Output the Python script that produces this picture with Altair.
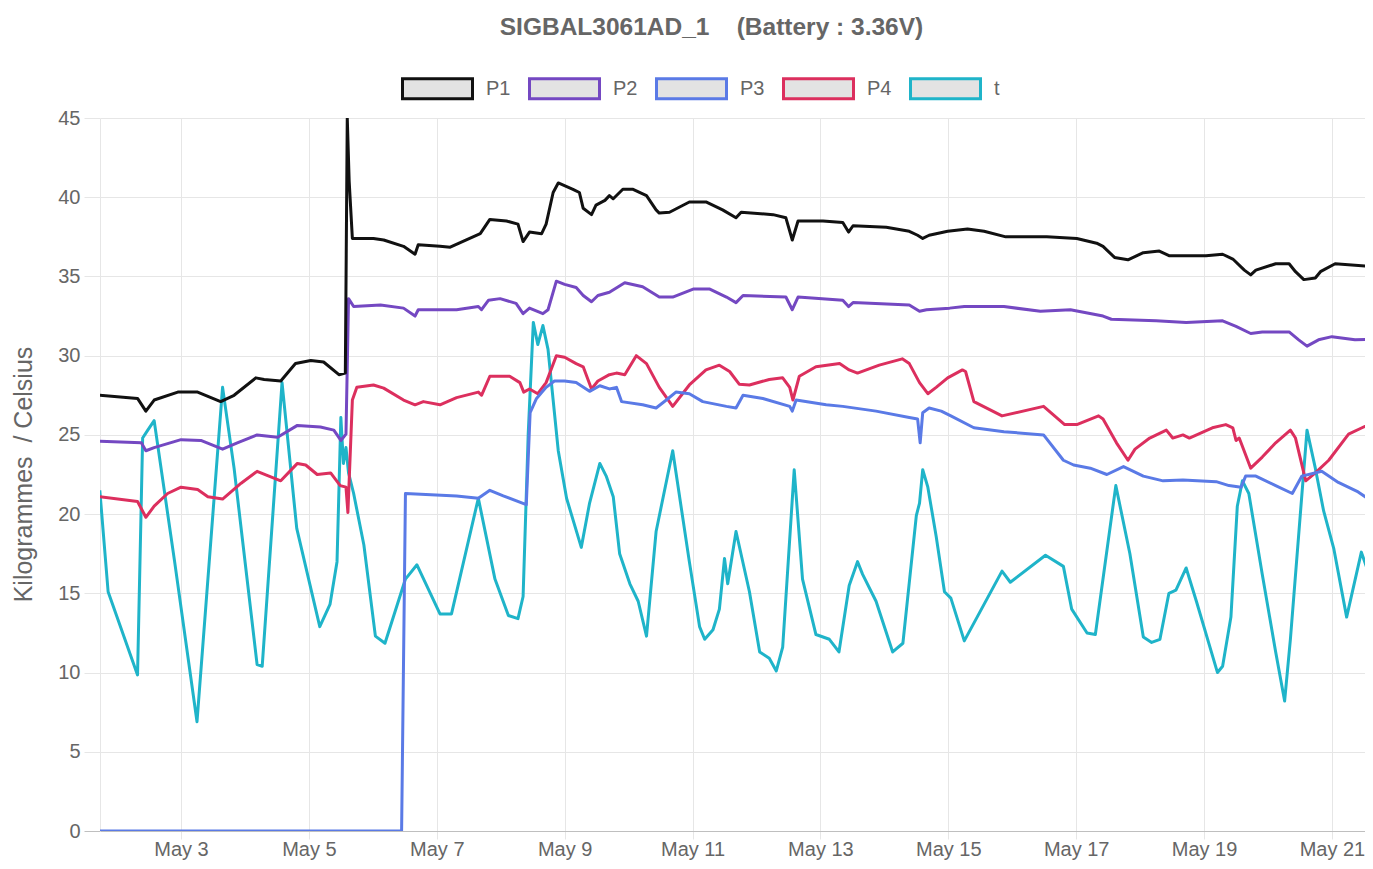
import altair as alt
import pandas as pd

# day = days since May 1 00:00, value in kg / °C
P1 = [(0.73, 27.5), (1.32, 27.3), (1.45, 26.5), (1.58, 27.2), (1.95, 27.7), (2.26, 27.7), (2.62, 27.1),
      (2.83, 27.5), (3.17, 28.6), (3.30, 28.5), (3.56, 28.4), (3.79, 29.5), (4.03, 29.7), (4.23, 29.6),
      (4.47, 28.8), (4.57, 28.9), (4.60, 45.0), (4.63, 41.0), (4.68, 37.4), (5.01, 37.4), (5.17, 37.3),
      (5.48, 36.9), (5.66, 36.4), (5.71, 37.0), (6.05, 36.9), (6.21, 36.85), (6.68, 37.7), (6.83, 38.6),
      (7.09, 38.5), (7.27, 38.3), (7.35, 37.2), (7.45, 37.8), (7.64, 37.7), (7.71, 38.3), (7.82, 40.3),
      (7.90, 40.9), (8.13, 40.5), (8.23, 40.3), (8.29, 39.3), (8.42, 38.9), (8.49, 39.5), (8.63, 39.8),
      (8.70, 40.1), (8.76, 39.9), (8.91, 40.5), (9.07, 40.5), (9.28, 40.1), (9.43, 39.2), (9.48, 39.0),
      (9.64, 39.05), (9.95, 39.7), (10.21, 39.7), (10.47, 39.2), (10.68, 38.7), (10.76, 39.05),
      (11.26, 38.9), (11.46, 38.7), (11.56, 37.3), (11.65, 38.5), (12.04, 38.5), (12.35, 38.4),
      (12.44, 37.8), (12.51, 38.2), (13.03, 38.1), (13.39, 37.85), (13.52, 37.6), (13.60, 37.4),
      (13.70, 37.6), (13.99, 37.85), (14.30, 38.0), (14.56, 37.85), (14.90, 37.5), (15.54, 37.5),
      (16.01, 37.4), (16.32, 37.1), (16.42, 36.9), (16.60, 36.2), (16.81, 36.05), (17.05, 36.5),
      (17.30, 36.6), (17.46, 36.3), (17.67, 36.3), (18.03, 36.3), (18.29, 36.4), (18.45, 36.1),
      (18.63, 35.4), (18.73, 35.1), (18.81, 35.4), (19.12, 35.8), (19.33, 35.8), (19.43, 35.3),
      (19.56, 34.8), (19.74, 34.9), (19.82, 35.3), (20.05, 35.8), (20.70, 35.6)]

P2 = [(0.73, 24.6), (1.38, 24.5), (1.45, 24.0), (1.58, 24.2), (2.0, 24.7), (2.31, 24.65), (2.65, 24.1),
      (2.88, 24.5), (3.19, 25.0), (3.51, 24.85), (3.82, 25.6), (4.18, 25.5), (4.39, 25.3), (4.50, 24.65),
      (4.58, 25.05), (4.62, 33.6), (4.70, 33.1), (5.12, 33.2), (5.48, 33.0), (5.66, 32.5), (5.71, 32.9),
      (6.31, 32.9), (6.65, 33.1), (6.70, 32.9), (6.81, 33.5), (6.99, 33.6), (7.24, 33.3), (7.35, 32.65),
      (7.45, 33.0), (7.66, 32.65), (7.74, 32.9), (7.87, 34.7), (8.0, 34.5), (8.18, 34.3), (8.29, 33.8),
      (8.42, 33.4), (8.52, 33.8), (8.70, 34.0), (8.94, 34.6), (9.22, 34.35), (9.48, 33.7), (9.69, 33.7),
      (10.01, 34.2), (10.27, 34.2), (10.53, 33.7), (10.68, 33.35), (10.79, 33.8), (11.46, 33.7),
      (11.56, 32.9), (11.65, 33.7), (12.35, 33.5), (12.44, 33.1), (12.51, 33.35), (13.39, 33.2),
      (13.55, 32.8), (13.66, 32.9), (14.02, 33.0), (14.25, 33.1), (14.87, 33.1), (15.44, 32.8),
      (15.91, 32.9), (16.42, 32.5), (16.55, 32.3), (17.25, 32.2), (17.72, 32.1), (18.29, 32.2),
      (18.50, 31.85), (18.73, 31.4), (18.91, 31.5), (19.33, 31.5), (19.48, 31.0), (19.61, 30.6),
      (19.79, 31.0), (20.0, 31.2), (20.36, 31.0), (20.70, 31.05)]

P3 = [(0.73, 0.0), (5.45, 0.0), (5.51, 21.3), (6.31, 21.15), (6.65, 21.0), (6.83, 21.5), (7.04, 21.15),
      (7.40, 20.6), (7.46, 26.4), (7.56, 27.3), (7.71, 28.0), (7.84, 28.4), (8.0, 28.4), (8.18, 28.3),
      (8.39, 27.75), (8.55, 28.1), (8.70, 27.9), (8.81, 28.0), (8.89, 27.1), (9.22, 26.9), (9.43, 26.7),
      (9.59, 27.2), (9.74, 27.7), (9.95, 27.6), (10.16, 27.1), (10.53, 26.8), (10.68, 26.7),
      (10.79, 27.5), (11.10, 27.3), (11.52, 26.8), (11.56, 26.5), (11.62, 27.2), (12.09, 26.9),
      (12.35, 26.8), (12.87, 26.5), (13.39, 26.1), (13.52, 26.0), (13.56, 24.5), (13.60, 26.4),
      (13.70, 26.7), (13.89, 26.5), (14.04, 26.2), (14.40, 25.45), (14.87, 25.2), (15.49, 25.0),
      (15.80, 23.4), (15.96, 23.1), (16.22, 22.9), (16.48, 22.5), (16.74, 23.0), (17.05, 22.4),
      (17.36, 22.1), (17.67, 22.15), (18.19, 22.05), (18.39, 21.8), (18.58, 21.7), (18.65, 22.4),
      (18.81, 22.4), (19.12, 21.8), (19.38, 21.3), (19.53, 22.4), (19.84, 22.7), (20.10, 22.0),
      (20.41, 21.4), (20.70, 20.6)]

P4 = [(0.73, 21.1), (1.32, 20.8), (1.45, 19.8), (1.58, 20.5), (1.79, 21.3), (2.0, 21.7), (2.26, 21.55),
      (2.42, 21.1), (2.65, 20.95), (2.94, 21.95), (3.19, 22.7), (3.56, 22.1), (3.82, 23.2), (3.95, 23.1),
      (4.13, 22.5), (4.34, 22.6), (4.49, 21.8), (4.58, 21.7), (4.61, 20.1), (4.68, 27.2), (4.75, 28.0),
      (5.01, 28.15), (5.17, 27.95), (5.48, 27.2), (5.66, 26.9), (5.79, 27.1), (6.05, 26.9), (6.31, 27.35),
      (6.65, 27.7), (6.70, 27.5), (6.83, 28.7), (7.14, 28.7), (7.30, 28.3), (7.36, 27.7), (7.45, 27.9),
      (7.58, 27.6), (7.71, 28.3), (7.87, 30.0), (8.0, 29.9), (8.18, 29.5), (8.29, 29.3), (8.42, 27.9),
      (8.52, 28.4), (8.70, 28.8), (8.81, 28.9), (8.94, 28.8), (9.12, 30.0), (9.28, 29.5), (9.48, 28.0),
      (9.69, 26.8), (9.95, 28.15), (10.21, 29.1), (10.42, 29.4), (10.58, 29.0), (10.73, 28.2),
      (10.89, 28.15), (11.20, 28.5), (11.41, 28.6), (11.52, 28.0), (11.57, 27.2), (11.67, 28.7),
      (11.93, 29.3), (12.30, 29.5), (12.45, 29.1), (12.58, 28.9), (12.92, 29.4), (13.28, 29.8),
      (13.39, 29.5), (13.55, 28.3), (13.68, 27.6), (13.81, 28.0), (13.99, 28.6), (14.22, 29.1),
      (14.27, 29.0), (14.40, 27.1), (14.84, 26.2), (15.49, 26.8), (15.82, 25.65), (16.01, 25.65),
      (16.35, 26.2), (16.42, 26.0), (16.63, 24.5), (16.81, 23.4), (16.92, 24.1), (17.15, 24.8),
      (17.41, 25.3), (17.51, 24.8), (17.67, 25.0), (17.77, 24.8), (18.13, 25.45), (18.34, 25.65),
      (18.45, 25.45), (18.50, 24.65), (18.55, 24.8), (18.73, 22.9), (18.91, 23.6), (19.12, 24.5),
      (19.35, 25.3), (19.43, 24.8), (19.59, 22.1), (19.74, 22.6), (19.95, 23.4), (20.26, 25.05),
      (20.47, 25.45), (20.70, 25.9)]

T = [(0.73, 21.5), (0.86, 15.1), (1.32, 9.85), (1.40, 24.8), (1.48, 25.3), (1.58, 25.9), (1.90, 17.0),
     (2.25, 6.9), (2.65, 28.0), (2.83, 22.9), (3.19, 10.5), (3.27, 10.4), (3.58, 28.3), (3.81, 19.1),
     (4.17, 12.9), (4.33, 14.3), (4.44, 17.0), (4.50, 26.1), (4.54, 23.2), (4.58, 24.2), (4.62, 22.6),
     (4.70, 21.3), (4.86, 18.05), (5.04, 12.3), (5.19, 11.85), (5.51, 15.9), (5.69, 16.8), (6.05, 13.7),
     (6.23, 13.7), (6.65, 21.0), (6.91, 15.9), (7.12, 13.6), (7.27, 13.4), (7.35, 14.8), (7.43, 25.05),
     (7.51, 32.1), (7.58, 30.7), (7.66, 31.9), (7.74, 30.4), (7.90, 24.0), (8.03, 21.0), (8.26, 17.9),
     (8.39, 20.7), (8.55, 23.2), (8.65, 22.4), (8.76, 21.1), (8.86, 17.5), (9.02, 15.6), (9.15, 14.5),
     (9.28, 12.3), (9.43, 18.9), (9.69, 24.0), (9.95, 17.0), (10.11, 12.9), (10.19, 12.1), (10.32, 12.7),
     (10.42, 14.0), (10.50, 17.2), (10.55, 15.6), (10.68, 18.9), (10.89, 15.1), (11.05, 11.3),
     (11.20, 10.9), (11.31, 10.1), (11.41, 11.6), (11.59, 22.8), (11.72, 15.9), (11.93, 12.4),
     (12.14, 12.1), (12.29, 11.3), (12.45, 15.5), (12.58, 17.0), (12.66, 16.2), (12.87, 14.5),
     (13.13, 11.3), (13.29, 11.85), (13.50, 19.9), (13.55, 20.7), (13.60, 22.8), (13.68, 21.7),
     (13.81, 18.6), (13.94, 15.1), (14.04, 14.7), (14.25, 12.0), (14.84, 16.4), (14.97, 15.7),
     (15.52, 17.4), (15.80, 16.7), (15.93, 14.0), (16.17, 12.5), (16.30, 12.4), (16.62, 21.8),
     (16.84, 17.5), (17.05, 12.25), (17.18, 11.9), (17.31, 12.1), (17.45, 15.0), (17.56, 15.2),
     (17.72, 16.6), (17.88, 14.5), (18.21, 10.0), (18.29, 10.4), (18.42, 13.5), (18.52, 20.5),
     (18.60, 22.1), (18.70, 21.3), (18.91, 16.2), (19.12, 11.3), (19.26, 8.2), (19.35, 12.1),
     (19.61, 25.3), (19.74, 22.9), (19.87, 20.2), (20.03, 17.8), (20.23, 13.5), (20.46, 17.6),
     (20.70, 14.8)]

SERIES = ["P1", "P2", "P3", "P4", "t"]
COLORS = ["#111111", "#7448c2", "#5a7ae6", "#dc2f5e", "#1fb4c9"]
X_TICKS = [2, 4, 6, 8, 10, 12, 14, 16, 18, 20]
Y_TICKS = [0, 5, 10, 15, 20, 25, 30, 35, 40, 45]
TITLE = "SIGBAL3061AD_1\u00a0\u00a0\u00a0 (Battery : 3.36V)"
Y_TITLE = "Kilogrammes\u00a0 / Celsius"

rows = []
for name, pts in zip(SERIES, [P1, P2, P3, P4, T]):
    for i, (d, v) in enumerate(pts):
        rows.append({"series": name, "day": d, "value": v, "idx": i})
df = pd.DataFrame(rows)

FONT = "Liberation Sans"
GRID = "#e6e6e6"
ZERO = "#bfbfbf"
TXT = "#666666"

x_axis = alt.Axis(values=X_TICKS, labelExpr="'May ' + (datum.value + 1)", grid=True, gridColor=GRID,
                  tickSize=8, tickColor=GRID, domainColor=ZERO, domainWidth=1,
                  labelFontSize=20, labelColor=TXT, labelFont=FONT, labelPadding=0, title=None)
y_axis = alt.Axis(values=Y_TICKS, grid=True,
                  gridColor=alt.condition("datum.value === 0", alt.value(ZERO), alt.value(GRID)),
                  tickColor=alt.condition("datum.value === 0", alt.value(ZERO), alt.value(GRID)),
                  tickSize=16, domainColor=GRID, labelFontSize=20, labelColor=TXT, labelFont=FONT,
                  labelPadding=4, title=Y_TITLE, titleFontSize=25, titleFontWeight="normal",
                  titleColor=TXT, titleFont=FONT, titleAngle=270, titleX=-77, titleY=356,
                  titleAlign="center", titleBaseline="middle")

legend = alt.Legend(orient="none", legendX=301, legendY=-66, direction="horizontal", title=None,
                    symbolType="M-1,-0.2857H1V0.2857H-1Z", symbolSize=4900, symbolStrokeWidth=3,
                    symbolFillColor="#e3e3e3", symbolOpacity=1, labelFontSize=20, labelColor=TXT,
                    labelFont=FONT, labelOffset=12, columnPadding=12, padding=0)

color = alt.Color("series:N", scale=alt.Scale(domain=SERIES, range=COLORS), legend=legend)


def layer_for(name):
    return alt.Chart(df).transform_filter(alt.datum.series == name).mark_line(
        strokeWidth=3, clip=True, strokeJoin="round").encode(
        x=alt.X("day:Q", scale=alt.Scale(domain=[0.733, 20.517], nice=False, zero=False), axis=x_axis),
        y=alt.Y("value:Q", scale=alt.Scale(domain=[0, 45], nice=False), axis=y_axis),
        color=color,
        order="idx:Q",
    )


chart = alt.layer(*[layer_for(s) for s in reversed(SERIES)]).properties(
    width=1265, height=713,
    title=alt.TitleParams(TITLE, fontSize=24.5, fontWeight="bold", color=TXT, font=FONT,
                          anchor="middle", frame="group", dx=-21, offset=12),
    padding={"left": 92, "top": 110, "right": 0, "bottom": 30},
    autosize=alt.AutoSizeParams(type="none"),
).configure_view(stroke=None)

chart.save("out.html", embed_options={"renderer": "svg", "actions": False})
